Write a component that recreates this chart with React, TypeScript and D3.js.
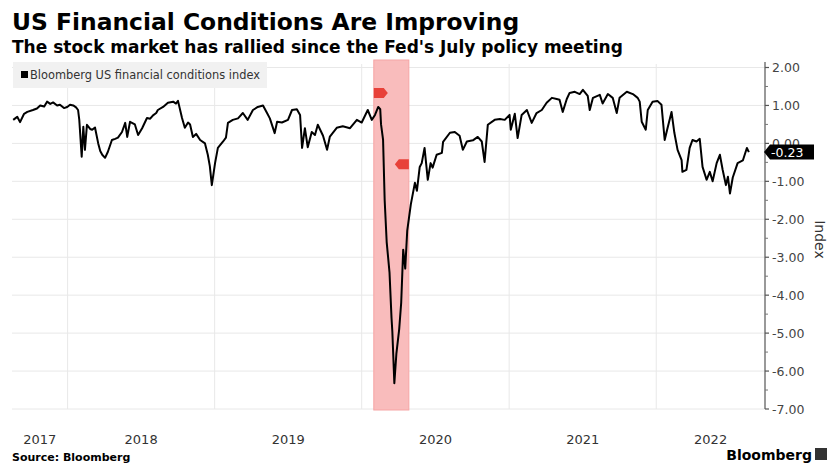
import React from "react";
import * as d3 from "d3";

const title = "US Financial Conditions Are Improving";
const subtitle = "The stock market has rallied since the Fed's July policy meeting";
const seriesName = "Bloomberg US financial conditions index";
const source = "Source: Bloomberg";
const yAxisTitle = "Index";

const dates = [
  "2017-08-19","2017-08-29","2017-09-05","2017-09-15","2017-09-23","2017-10-07","2017-10-17","2017-10-25",
  "2017-11-04","2017-11-11","2017-11-19","2017-11-26","2017-12-06","2017-12-13","2017-12-23","2017-12-31",
  "2018-01-07","2018-01-15","2018-01-22","2018-01-27","2018-01-30","2018-02-05","2018-02-09","2018-02-13",
  "2018-02-18","2018-02-26","2018-03-03","2018-03-10","2018-03-18","2018-03-23","2018-03-28","2018-04-04",
  "2018-04-11","2018-04-21","2018-04-29","2018-05-06","2018-05-16","2018-05-24","2018-05-29","2018-06-05",
  "2018-06-17","2018-06-25","2018-07-05","2018-07-17","2018-07-25","2018-08-01","2018-08-09","2018-08-13",
  "2018-08-26","2018-09-07","2018-09-20","2018-09-27","2018-10-02","2018-10-12","2018-10-19","2018-10-27",
  "2018-11-01","2018-11-08","2018-11-16","2018-11-26","2018-12-08","2018-12-15","2018-12-20","2018-12-25",
  "2019-01-02","2019-01-09","2019-01-22","2019-01-29","2019-02-03","2019-02-15","2019-02-28","2019-03-12",
  "2019-03-24","2019-04-06","2019-04-18","2019-05-01","2019-05-11","2019-05-18","2019-05-30","2019-06-05",
  "2019-06-17","2019-07-02","2019-07-12","2019-07-24","2019-08-01","2019-08-06","2019-08-13","2019-08-20",
  "2019-08-30","2019-09-07","2019-09-14","2019-09-27","2019-10-07","2019-10-14","2019-10-31","2019-11-15",
  "2019-12-03","2019-12-20","2020-01-01","2020-01-16","2020-01-26","2020-02-03","2020-02-11","2020-02-16",
  "2020-02-18","2020-02-23","2020-02-27","2020-03-03","2020-03-10","2020-03-15","2020-03-17","2020-03-22",
  "2020-03-27","2020-04-03","2020-04-08","2020-04-13","2020-04-18","2020-04-23","2020-05-02","2020-05-12",
  "2020-05-17","2020-05-24","2020-05-29","2020-06-05","2020-06-13","2020-06-20","2020-06-25","2020-07-05",
  "2020-07-18","2020-07-21","2020-08-07","2020-08-19","2020-08-31","2020-09-08","2020-09-18","2020-10-03",
  "2020-10-15","2020-10-25","2020-11-01","2020-11-09","2020-11-26","2020-12-09","2020-12-21","2021-01-02",
  "2021-01-05","2021-01-15","2021-01-22","2021-02-01","2021-02-14","2021-02-26","2021-03-10","2021-03-23",
  "2021-04-04","2021-04-17","2021-04-29","2021-05-06","2021-05-14","2021-05-24","2021-05-31","2021-06-13",
  "2021-06-25","2021-07-03","2021-07-15","2021-07-20","2021-07-28","2021-08-14","2021-08-21","2021-09-03",
  "2021-09-15","2021-09-25","2021-10-02","2021-10-20","2021-11-04","2021-11-16","2021-11-21","2021-11-26",
  "2021-12-06","2021-12-11","2021-12-23","2022-01-04","2022-01-14","2022-01-22","2022-01-29","2022-02-08",
  "2022-02-15","2022-02-23","2022-03-05","2022-03-07","2022-03-17","2022-03-25","2022-04-01","2022-04-11",
  "2022-04-19","2022-04-26","2022-05-06","2022-05-14","2022-05-21","2022-05-31","2022-06-08","2022-06-15",
  "2022-06-23","2022-06-28","2022-07-03","2022-07-10","2022-07-22","2022-08-04","2022-08-14","2022-08-19",
];

const values = [
  0.62, 0.70, 0.56, 0.78, 0.83, 0.88, 0.92, 1.00,
  0.97, 1.10, 1.04, 1.08, 1.00, 1.02, 0.93, 0.96,
  1.02, 1.00, 0.95, 0.88, 0.62, -0.35, 0.44, -0.17,
  0.49, 0.38, 0.36, 0.42, 0.00, -0.20, -0.30, -0.38,
  -0.22, 0.09, 0.12, 0.15, 0.30, 0.54, 0.17, 0.57,
  0.50, 0.22, 0.40, 0.67, 0.65, 0.74, 0.80, 0.88,
  0.96, 1.07, 1.10, 1.05, 1.12, 0.67, 0.41, 0.55,
  0.50, 0.17, 0.25, 0.09, 0.00, -0.30, -0.60, -1.10,
  -0.52, -0.12, 0.05, 0.15, 0.54, 0.62, 0.66, 0.80,
  0.62, 0.88, 0.96, 1.00, 0.80, 0.66, 0.27, 0.57,
  0.55, 0.62, 0.88, 0.90, 0.75, -0.12, 0.40, -0.10,
  0.30, 0.22, 0.49, 0.20, -0.17, 0.18, 0.41, 0.45,
  0.40, 0.62, 0.55, 0.88, 0.62, 0.75, 0.96, 0.90,
  0.50, 0.10, -1.50, -2.60, -3.40, -4.60, -4.95, -6.32,
  -5.55, -4.90, -4.20, -2.80, -3.30, -2.30, -1.60, -1.04,
  -1.25, -0.62, -0.52, -0.12, -0.96, -0.52, -0.64, -0.30,
  -0.25, 0.04, 0.28, 0.30, 0.20, -0.17, 0.05, 0.08,
  0.17, 0.05, -0.49, 0.49, 0.62, 0.64, 0.62, 0.75,
  0.36, 0.78, 0.14, 0.75, 0.88, 0.54, 0.80, 0.88,
  1.07, 1.20, 1.17, 1.15, 0.83, 1.17, 1.33, 1.36,
  1.30, 1.41, 1.25, 0.88, 1.20, 1.28, 1.05, 1.30,
  1.20, 0.80, 1.20, 1.36, 1.30, 1.20, 1.10, 0.57,
  0.36, 0.88, 1.10, 1.12, 1.02, 0.09, 0.40, 0.83,
  0.28, -0.17, -0.44, -0.75, -0.70, -0.12, 0.09, 0.05,
  0.12, -0.62, -0.96, -0.75, -1.00, -0.52, -0.30, -0.70,
  -1.10, -0.88, -1.32, -0.90, -0.52, -0.45, -0.12, -0.23,
];

const yTicks = [2, 1, 0, -1, -2, -3, -4, -5, -6, -7];
const yMinorTicks = [1.5, 0.5, -0.5, -1.5, -2.5, -3.5, -4.5, -5.5, -6.5];
const yearLabels = ["2017", "2018", "2019", "2020", "2021", "2022"];
const domainStart = "2017-08-16";
const domainEnd = "2022-09-28";
const bandStart = "2020-01-31";
const bandEnd = "2020-04-27";
const markerDates = ["2020-01-31", "2020-04-27"];
const markerValues = [1.33, -0.55];
const markerDirs = ["right", "left"];

const W = 830;
const H = 464;
const left = 12;
const right = 765;
const top = 60;
const bottom = 409;

const parse = d3.timeParse("%Y-%m-%d");

export default function App() {
  const x = d3.scaleTime().domain([parse(domainStart)!, parse(domainEnd)!]).range([left, right]);
  const y = d3.scaleLinear().domain([-7, 2]).range([bottom, 67.5]);

  const data = dates.map((d, i) => ({ date: parse(d)!, value: values[i] }));
  const line = d3
    .line<{ date: Date; value: number }>()
    .x((d) => x(d.date))
    .y((d) => y(d.value));

  const yearStarts = yearLabels.map((yr) => new Date(+yr, 0, 1));
  const yearLabelX = yearLabels.map((yr) => {
    const s = Math.max(x(new Date(+yr, 0, 1)), left);
    const e = Math.min(x(new Date(+yr + 1, 0, 1)), right);
    return (s + e) / 2;
  });

  const last = data[data.length - 1];
  const lastY = y(last.value);

  const font = "'DejaVu Sans', sans-serif";

  return (
    <svg
      width={W}
      height={H}
      style={{ position: "absolute", left: 0, top: 0, background: "#fff" }}
      fontFamily={font}
    >
      <rect x={0} y={0} width={W} height={H} fill="#fff" />
      <text x={12} y={30} fontSize={23.4} fontWeight="bold" fill="#000">
        {title}
      </text>
      <text x={12} y={53} fontSize={17} fontWeight="bold" fill="#000">
        {subtitle}
      </text>

      {/* gridlines */}
      {yTicks.map((t) => (
        <line key={"g" + t} x1={left} x2={right} y1={y(t)} y2={y(t)} stroke="#e8e8e8" strokeWidth={1} />
      ))}
      {yearStarts.slice(1).map((d, i) => (
        <line key={"v" + i} x1={x(d)} x2={x(d)} y1={top + 4} y2={bottom} stroke="#e8e8e8" strokeWidth={1} />
      ))}

      {/* shaded band */}
      <rect
        x={x(parse(bandStart)!)}
        y={top}
        width={x(parse(bandEnd)!) - x(parse(bandStart)!)}
        height={bottom + 1 - top}
        fill="#f9bcbc"
        stroke="#f6a5a5"
        strokeWidth={1}
      />

      {/* legend */}
      <rect x={13} y={62} width={254} height={26} fill="#f1f1f1" />
      <rect x={21} y={71} width={7} height={7} fill="#000" />
      <text x={30} y={79} fontSize={11.4} fill="#333">
        {seriesName}
      </text>

      {/* line */}
      <path d={line(data) || ""} fill="none" stroke="#000" strokeWidth={2} strokeLinejoin="round" />

      {/* event markers */}
      {markerDates.map((d, i) => {
        const mx = x(parse(d)!);
        const my = y(markerValues[i]);
        const path =
          markerDirs[i] === "right"
            ? `M${mx},${my - 5} h10 l4,5 l-4,5 h-10 z`
            : `M${mx},${my - 5} h-10 l-4,5 l4,5 h10 z`;
        return <path key={"m" + i} d={path} fill="#e5332a" opacity={0.9} />;
      })}

      {/* y axis */}
      <line x1={right} x2={right} y1={62} y2={bottom} stroke="#555" strokeWidth={1.2} />
      {yTicks.map((t) => (
        <g key={"t" + t}>
          <line x1={right} x2={right + 4} y1={y(t)} y2={y(t)} stroke="#555" strokeWidth={1.2} />
          <text x={772} y={y(t) + 4.5} fontSize={12.5} fill="#444">
            {t.toFixed(2)}
          </text>
        </g>
      ))}
      {yMinorTicks.map((t) => (
        <line key={"mt" + t} x1={right} x2={right + 3} y1={y(t)} y2={y(t)} stroke="#777" strokeWidth={1} />
      ))}
      <text
        transform={`translate(815,${(top + bottom) / 2 + 5}) rotate(90)`}
        textAnchor="middle"
        fontSize={14}
        fill="#333"
      >
        {yAxisTitle}
      </text>

      {/* last value label */}
      <path d={`M${right - 1},${lastY} l6,-7.5 h44 v15 h-44 z`} fill="#000" />
      <text x={771} y={lastY + 4.5} fontSize={12.5} fill="#fff">
        {last.value.toFixed(2)}
      </text>

      {/* x axis labels */}
      {yearLabels.map((yr, i) => (
        <text key={yr} x={yearLabelX[i]} y={444} fontSize={13} fill="#333" textAnchor="middle">
          {yr}
        </text>
      ))}

      <text x={12} y={461} fontSize={11} fontWeight="bold" fill="#000">
        {source}
      </text>
      <text x={812} y={460} fontSize={14} fontWeight="bold" fill="#000" textAnchor="end">
        Bloomberg
      </text>
      <rect x={815} y={448} width={12} height={12} fill="#333" />
    </svg>
  );
}
